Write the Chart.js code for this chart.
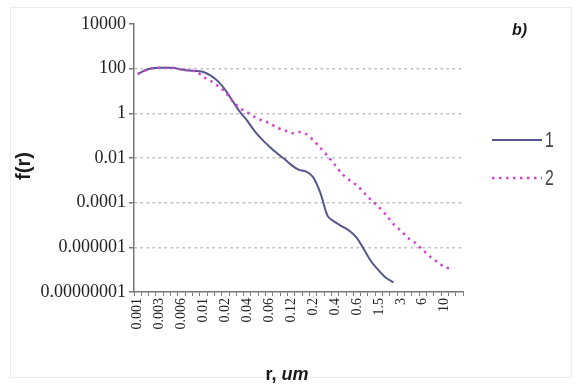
<!DOCTYPE html>
<html>
<head>
<meta charset="utf-8">
<script src="https://cdn.jsdelivr.net/npm/chart.js@4/dist/chart.umd.min.js"></script>
<style>
  html, body { margin: 0; padding: 0; background: #fff; }
  #wrap { width: 582px; height: 385px; }
</style>
</head>
<body>
<div id="wrap"><canvas id="chart" width="582" height="385"></canvas></div>
<script>
'use strict';

// x tick labels (one label every 3rd category, 45 categories in all)
var tickLabels = ['0.001', '0.003', '0.006', '0.01', '0.02', '0.04', '0.06', '0.12',
  '0.2', '0.4', '0.6', '1.5', '3', '6', '10'];
var categoryCount = 45;

// y axis ticks (log scale, every 2 decades)
var yTickValues = [1e-8, 1e-6, 1e-4, 1e-2, 1, 100, 10000];
var yTickLabels = ['0.00000001', '0.000001', '0.0001', '0.01', '1', '100', '10000'];

// series 1 (solid)
var series1 = [58, 83, 104, 110, 110, 107, 91, 83, 79, 71,
  49, 27, 11, 3.5, 1.15, 0.46, 0.16, 0.068, 0.033, 0.017,
  0.0095, 0.0049, 0.003, 0.0025, 0.0014, 0.00027, 2.5e-5, 1.35e-5, 8.5e-6, 5.4e-6,
  2.6e-6, 7.6e-7, 2.2e-7, 9e-8, 4.2e-8, 2.7e-8, null, null, null, null,
  null, null, null, null, null];

// series 2 (dotted)
var series2 = [58, 83, 104, 110, 110, 107, 91, 83, 75, 42,
  28, 16.6, 9, 3.5, 1.7, 1.1, 0.69, 0.48, 0.37, 0.23,
  0.18, 0.13, 0.145, 0.12, 0.064, 0.028, 0.012, 0.0049, 0.0019, 0.001,
  0.00059, 0.00027, 0.000125, 6.3e-5, 2.8e-5, 1.1e-5, 5.6e-6, 2.6e-6, 1.55e-6, 7.6e-7,
  3.9e-7, 2.2e-7, 1.3e-7, 1.07e-7, null];

var seriesNames = ['1', '2'];

var categories = [];
for (var i = 0; i < categoryCount; i++) {
  categories.push(i % 3 === 0 ? tickLabels[i / 3] : '');
}

// Titles, legend and frame drawn on the canvas
var decorPlugin = {
  id: 'decor',
  afterDraw: function(chart) {
    var ctx = chart.ctx;
    ctx.save();

    // faint outer frame
    ctx.strokeStyle = '#ececec';
    ctx.lineWidth = 1;
    ctx.strokeRect(10.5, 7.5, 561, 370);

    // y title
    ctx.fillStyle = '#1a1a1a';
    ctx.save();
    ctx.translate(24, 166);
    ctx.rotate(-Math.PI / 2);
    ctx.font = 'bold 20px "Liberation Sans", Arial, sans-serif';
    ctx.textAlign = 'center';
    ctx.textBaseline = 'middle';
    ctx.fillText('f(r)', 0, 0);
    ctx.restore();

    // x title "r, um"
    ctx.textBaseline = 'alphabetic';
    ctx.textAlign = 'left';
    var f1 = 'bold 18px "Liberation Sans", Arial, sans-serif';
    var f2 = 'italic bold 18px "Liberation Sans", Arial, sans-serif';
    ctx.font = f1;
    var w1 = ctx.measureText('r, ').width;
    ctx.font = f2;
    var w2 = ctx.measureText('um').width;
    var x0 = 287 - (w1 + w2) / 2;
    ctx.font = f1;
    ctx.fillText('r, ', x0, 380);
    ctx.font = f2;
    ctx.fillText('um', x0 + w1, 380);

    // panel label
    ctx.font = 'italic bold 16px "Liberation Sans", Arial, sans-serif';
    ctx.fillText('b)', 512, 35);

    // legend
    var rows = [140, 178];
    chart.data.datasets.forEach(function(ds, k) {
      var y = rows[k];
      ctx.save();
      ctx.strokeStyle = ds.borderColor;
      ctx.lineWidth = ds.borderWidth;
      ctx.setLineDash(ds.borderDash || []);
      ctx.lineCap = 'butt';
      ctx.beginPath();
      ctx.moveTo(492, y);
      ctx.lineTo(542, y);
      ctx.stroke();
      ctx.restore();
      ctx.save();
      ctx.fillStyle = '#444';
      ctx.font = '22px "Liberation Sans", sans-serif';
      ctx.textBaseline = 'middle';
      ctx.translate(545, y + 1);
      ctx.scale(0.72, 1);
      ctx.fillText(ds.label, 0, 0);
      ctx.restore();
    });

    ctx.restore();
  }
};

var config = {
  type: 'line',
  data: {
    labels: categories,
    datasets: [{
      label: seriesNames[0],
      data: series1,
      borderColor: '#57578f',
      backgroundColor: '#57578f',
      borderWidth: 2,
      pointRadius: 0,
      tension: 0.3,
      order: 1
    }, {
      label: seriesNames[1],
      data: series2,
      borderColor: '#cf45cf',
      backgroundColor: '#cf45cf',
      borderWidth: 2.5,
      borderDash: [2.5, 4.5],
      pointRadius: 0,
      tension: 0.3,
      order: 0
    }]
  },
  options: {
    responsive: false,
    animation: false,
    layout: { padding: { left: 0, top: 24, right: 119, bottom: 0 } },
    plugins: {
      legend: { display: false },
      tooltip: { enabled: false }
    },
    scales: {
      x: {
        type: 'category',
        offset: true,
        grid: {
          offset: true,
          drawOnChartArea: false,
          drawTicks: true,
          tickLength: 4,
          tickColor: '#777',
          tickWidth: 1
        },
        border: { color: '#777', width: 1.5 },
        ticks: {
          autoSkip: false,
          maxRotation: 90,
          minRotation: 90,
          padding: 2,
          color: '#222',
          font: { family: '"Liberation Serif", "Times New Roman", serif', size: 14 }
        },
        afterFit: function(scale) { scale.height = 93; }
      },
      y: {
        type: 'logarithmic',
        min: 1e-8,
        max: 10000,
        afterBuildTicks: function(scale) {
          scale.ticks = yTickValues.map(function(v) { return { value: v }; });
        },
        afterFit: function(scale) { scale.width = 134; },
        grid: {
          color: function(c) {
            var idx = c.index;
            return (idx === 0 || idx === yTickValues.length - 1) ? 'rgba(0,0,0,0)' : '#bdbdbd';
          },
          lineWidth: 1.5,
          tickColor: '#777',
          tickLength: 5,
          tickBorderDash: []
        },
        border: { color: '#777', width: 1.5, dash: [2.5, 3.5] },
        ticks: {
          padding: 3,
          color: '#222',
          font: { family: '"Liberation Serif", "Times New Roman", serif', size: 18 },
          callback: function(v, i) { return yTickLabels[i]; }
        }
      }
    }
  },
  plugins: [decorPlugin]
};

var ctx = document.getElementById('chart').getContext('2d');
window.myChart = new Chart(ctx, config);
</script>
</body>
</html>
